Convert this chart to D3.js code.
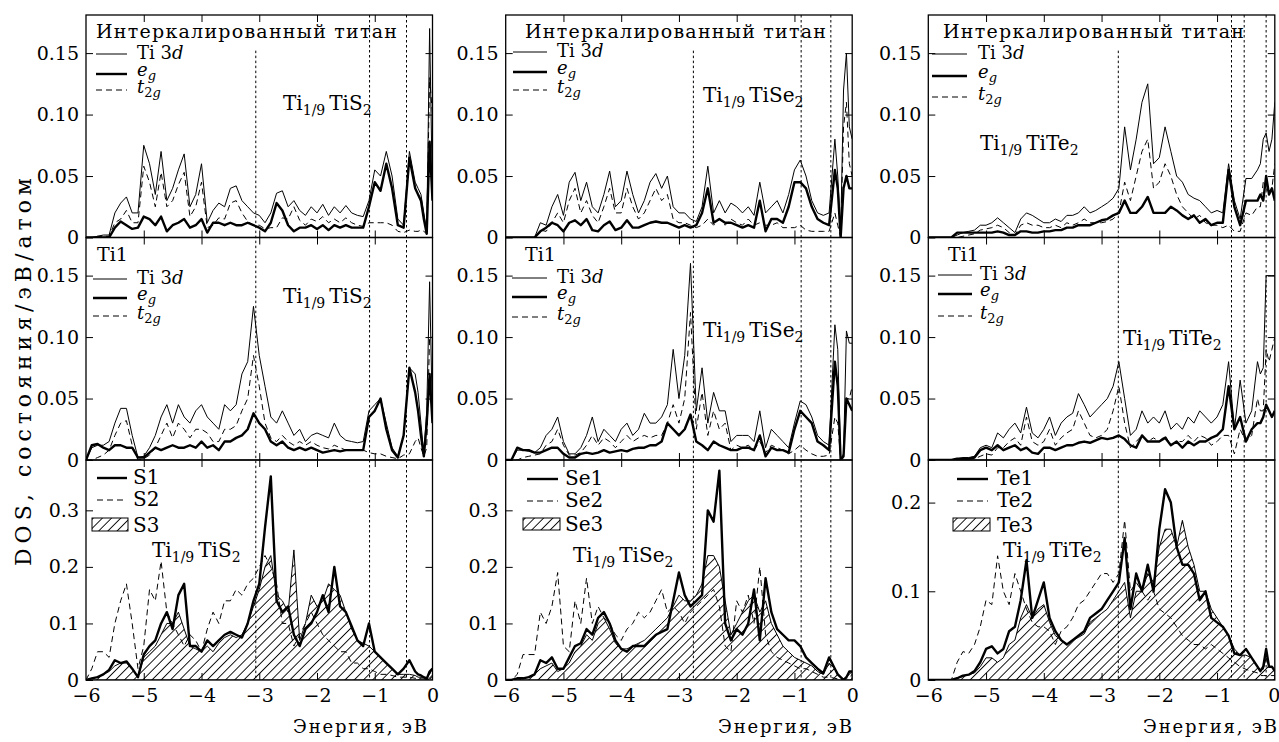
<!DOCTYPE html>
<html>
<head>
<meta charset="utf-8">
<script src="https://cdn.jsdelivr.net/npm/d3@7"></script>
<style>
    body { margin: 0; background: #fff; }
    svg text { font-family: "DejaVu Serif", serif; fill: #000; }
</style>
</head>
<body>
<div id="chart"></div>
<script>

// energy grid, eV (finer near the Fermi level)
let energy = [-6.0, -5.9, -5.8, -5.7, -5.6, -5.5, -5.4, -5.3, -5.2, -5.1,
    -5.0, -4.9, -4.8, -4.7, -4.6, -4.5, -4.4, -4.3, -4.2, -4.1,
    -4.0, -3.9, -3.8, -3.7, -3.6, -3.5, -3.4, -3.3, -3.2, -3.1,
    -3.0, -2.9, -2.8, -2.7, -2.6, -2.5, -2.4, -2.3, -2.2, -2.1,
    -2.0, -1.9, -1.8, -1.7, -1.6, -1.5, -1.4, -1.3, -1.2, -1.1,
    -1.0, -0.9, -0.8, -0.7, -0.6, -0.5, -0.4, -0.3,
    -0.25, -0.2, -0.15, -0.1, -0.05, 0];

let xTicks = [-6, -5, -4, -3, -2, -1, 0];
let yTicksTi = [0, 0.05, 0.10, 0.15];
let yTickLabelsTi = ["0", "0.05", "0.10", "0.15"];
let yTicksX = [0, 0.1, 0.2, 0.3];
let yTickLabelsX = ["0", "0.1", "0.2", "0.3"];
let yTicksTe = [0, 0.1, 0.2];
let yTickLabelsTe = ["0", "0.1", "0.2"];

// ---------- Ti1/9TiS2 ----------
let sTopTi3d = [0, 0, 0.001, 0.002, 0.002, 0.02, 0.028, 0.033, 0.02, 0.02,
    0.075, 0.06, 0.035, 0.07, 0.03, 0.04, 0.055, 0.068, 0.025, 0.035,
    0.06, 0.012, 0.022, 0.028, 0.025, 0.04, 0.042, 0.03, 0.025, 0.02,
    0.018, 0.012, 0.02, 0.036, 0.038, 0.025, 0.03, 0.022, 0.018, 0.025,
    0.02, 0.027, 0.018, 0.025, 0.02, 0.026, 0.02, 0.018, 0.017, 0.03,
    0.055, 0.05, 0.07, 0.05, 0.015, 0.01, 0.07, 0.045,
    0.04, 0.035, 0.02, 0.005, 0.17, 0.03];
let sTopEg = [0, 0, 0, 0, 0, 0.008, 0.013, 0.01, 0.007, 0.008,
    0.017, 0.015, 0.01, 0.017, 0.005, 0.01, 0.012, 0.015, 0.008, 0.01,
    0.015, 0.004, 0.012, 0.012, 0.01, 0.012, 0.01, 0.01, 0.012, 0.01,
    0.008, 0.005, 0.012, 0.028, 0.022, 0.01, 0.005, 0.008, 0.008, 0.01,
    0.007, 0.01, 0.006, 0.01, 0.008, 0.01, 0.008, 0.008, 0.008, 0.025,
    0.045, 0.038, 0.06, 0.04, 0.01, 0.008, 0.065, 0.04,
    0.035, 0.03, 0.015, 0.003, 0.078, 0.03];
let sTopT2g = [0, 0, 0.001, 0.001, 0.001, 0.012, 0.015, 0.022, 0.012, 0.012,
    0.058, 0.045, 0.025, 0.053, 0.025, 0.03, 0.043, 0.053, 0.017, 0.025,
    0.045, 0.008, 0.01, 0.016, 0.015, 0.028, 0.03, 0.02, 0.013, 0.01,
    0.01, 0.007, 0.008, 0.008, 0.016, 0.015, 0.025, 0.014, 0.01, 0.015,
    0.013, 0.017, 0.012, 0.015, 0.012, 0.016, 0.012, 0.01, 0.009, 0.012,
    0.012, 0.012, 0.012, 0.01, 0.005, 0.004, 0.006, 0.005,
    0.005, 0.006, 0.005, 0.003, 0.13, 0.1];

let sMidTi3d = [0, 0.01, 0.012, 0.012, 0.015, 0.03, 0.042, 0.042, 0.02, 0.002,
    0.003, 0.01, 0.02, 0.035, 0.045, 0.03, 0.045, 0.035, 0.03, 0.04,
    0.045, 0.035, 0.03, 0.025, 0.045, 0.04, 0.045, 0.07, 0.08, 0.125,
    0.085, 0.06, 0.035, 0.03, 0.04, 0.03, 0.02, 0.025, 0.015, 0.02,
    0.022, 0.02, 0.018, 0.03, 0.02, 0.016, 0.015, 0.014, 0.015, 0.04,
    0.045, 0.05, 0.03, 0.01, 0.003, 0.02, 0.075, 0.07,
    0.055, 0.03, 0.005, 0.04, 0.145, 0.03];
let sMidEg = [0, 0.012, 0.013, 0.01, 0.008, 0.012, 0.012, 0.01, 0.01, 0.002,
    0.002, 0.006, 0.01, 0.008, 0.01, 0.012, 0.01, 0.01, 0.012, 0.01,
    0.015, 0.01, 0.012, 0.008, 0.015, 0.015, 0.018, 0.02, 0.025, 0.038,
    0.03, 0.025, 0.015, 0.012, 0.015, 0.01, 0.008, 0.01, 0.008, 0.01,
    0.008, 0.006, 0.007, 0.008, 0.007, 0.008, 0.008, 0.008, 0.008, 0.035,
    0.04, 0.05, 0.025, 0.008, 0.002, 0.02, 0.075, 0.055,
    0.04, 0.02, 0.003, 0.03, 0.07, 0.03];
let sMidT2g = [0, 0, 0.002, 0.004, 0.008, 0.02, 0.03, 0.032, 0.012, 0,
    0.001, 0.004, 0.01, 0.02, 0.03, 0.018, 0.03, 0.025, 0.018, 0.025,
    0.025, 0.022, 0.015, 0.015, 0.025, 0.025, 0.028, 0.04, 0.05, 0.085,
    0.06, 0.03, 0.018, 0.015, 0.02, 0.015, 0.012, 0.015, 0.012, 0.015,
    0.012, 0.01, 0.009, 0.012, 0.01, 0.008, 0.008, 0.008, 0.008, 0.006,
    0.005, 0.005, 0.003, 0.002, 0.001, 0.004, 0.005, 0.015,
    0.018, 0.01, 0.003, 0.01, 0.1, 0.1];

let s1 = [0, 0.003, 0.005, 0.01, 0.018, 0.035, 0.03, 0.033, 0.02, 0.005,
    0.045, 0.06, 0.07, 0.1, 0.12, 0.09, 0.15, 0.17, 0.06, 0.06,
    0.05, 0.07, 0.06, 0.07, 0.08, 0.085, 0.08, 0.075, 0.1, 0.14,
    0.17, 0.27, 0.36, 0.14, 0.12, 0.13, 0.08, 0.06, 0.09, 0.1,
    0.12, 0.15, 0.12, 0.2, 0.13, 0.12, 0.095, 0.07, 0.06, 0.1,
    0.05, 0.04, 0.03, 0.02, 0.01, 0.02, 0.035, 0.015,
    0.01, 0.008, 0.005, 0.002, 0.015, 0.02];
let s2 = [0, 0.02, 0.05, 0.05, 0.04, 0.1, 0.14, 0.17, 0.1, 0.02,
    0.06, 0.16, 0.14, 0.21, 0.12, 0.1, 0.08, 0.06, 0.08, 0.07,
    0.05, 0.09, 0.12, 0.1, 0.14, 0.14, 0.16, 0.15, 0.17, 0.18,
    0.2, 0.22, 0.2, 0.17, 0.1, 0.1, 0.06, 0.08, 0.1, 0.12,
    0.1, 0.08, 0.07, 0.06, 0.05, 0.05, 0.03, 0.03, 0.02, 0.02,
    0.015, 0.01, 0.01, 0.008, 0.005, 0.005, 0.005, 0.003,
    0.002, 0.002, 0.002, 0.002, 0.002, 0.005];
let s3 = [0, 0.003, 0.005, 0.01, 0.015, 0.025, 0.03, 0.03, 0.02, 0.005,
    0.04, 0.05, 0.06, 0.08, 0.1, 0.1, 0.12, 0.09, 0.06, 0.055,
    0.05, 0.06, 0.05, 0.065, 0.075, 0.08, 0.075, 0.08, 0.1, 0.13,
    0.16, 0.2, 0.22, 0.15, 0.14, 0.12, 0.23, 0.07, 0.1, 0.15,
    0.13, 0.14, 0.17, 0.16, 0.15, 0.12, 0.09, 0.07, 0.065, 0.06,
    0.05, 0.04, 0.03, 0.02, 0.01, 0.01, 0.01, 0.008,
    0.005, 0.005, 0.005, 0.005, 0.01, 0.02];

// ---------- Ti1/9TiSe2 ----------
let seTopTi3d = [0, 0, 0, 0, 0, 0, 0.012, 0.01, 0.025, 0.035,
    0.018, 0.045, 0.053, 0.03, 0.045, 0.025, 0.02, 0.035, 0.054, 0.025,
    0.03, 0.054, 0.035, 0.02, 0.03, 0.045, 0.052, 0.04, 0.05, 0.025,
    0.02, 0.02, 0.015, 0.013, 0.025, 0.058, 0.02, 0.03, 0.02, 0.028,
    0.025, 0.02, 0.025, 0.018, 0.045, 0.02, 0.025, 0.03, 0.02, 0.035,
    0.055, 0.063, 0.05, 0.03, 0.02, 0.018, 0.02, 0.08,
    0.05, 0.002, 0.12, 0.15, 0.09, 0.08];
let seTopEg = [0, 0, 0, 0, 0, 0, 0.005, 0.008, 0.012, 0.01,
    0.005, 0.012, 0.014, 0.01, 0.015, 0.006, 0.005, 0.01, 0.013, 0.006,
    0.008, 0.014, 0.008, 0.008, 0.01, 0.012, 0.013, 0.012, 0.012, 0.01,
    0.008, 0.01, 0.008, 0.01, 0.02, 0.04, 0.012, 0.015, 0.012, 0.012,
    0.01, 0.008, 0.01, 0.008, 0.03, 0.005, 0.015, 0.015, 0.012, 0.025,
    0.045, 0.045, 0.04, 0.025, 0.015, 0.012, 0.01, 0.055,
    0.04, 0, 0.04, 0.05, 0.04, 0.04];
let seTopT2g = [0, 0, 0, 0, 0, 0, 0.006, 0.005, 0.012, 0.02,
    0.012, 0.03, 0.04, 0.02, 0.03, 0.018, 0.012, 0.025, 0.04, 0.02,
    0.02, 0.04, 0.025, 0.015, 0.02, 0.03, 0.04, 0.03, 0.035, 0.015,
    0.012, 0.012, 0.01, 0.008, 0.01, 0.015, 0.01, 0.015, 0.01, 0.015,
    0.012, 0.01, 0.015, 0.01, 0.012, 0.01, 0.01, 0.012, 0.008, 0.008,
    0.008, 0.01, 0.006, 0.005, 0.005, 0.005, 0.005, 0.02,
    0.01, 0, 0.09, 0.11, 0.06, 0.05];

let seMidTi3d = [0, 0, 0.008, 0.008, 0.007, 0.006, 0.01, 0.02, 0.025, 0.035,
    0.015, 0.005, 0.005, 0.01, 0.02, 0.035, 0.015, 0.025, 0.02, 0.015,
    0.025, 0.03, 0.02, 0.025, 0.038, 0.03, 0.03, 0.035, 0.045, 0.09,
    0.05, 0.085, 0.16, 0.04, 0.075, 0.03, 0.055, 0.04, 0.04, 0.015,
    0.02, 0.02, 0.02, 0.015, 0.04, 0.01, 0.025, 0.02, 0.015, 0.01,
    0.03, 0.048, 0.045, 0.035, 0.02, 0.015, 0.012, 0.11,
    0.09, 0, 0.005, 0.105, 0.095, 0.095];
let seMidEg = [0, 0, 0.01, 0.008, 0.008, 0.006, 0.006, 0.008, 0.01, 0.01,
    0.005, 0.002, 0.002, 0.005, 0.006, 0.005, 0.006, 0.008, 0.006, 0.007,
    0.008, 0.007, 0.009, 0.01, 0.01, 0.012, 0.012, 0.015, 0.03, 0.025,
    0.02, 0.025, 0.037, 0.015, 0.012, 0.008, 0.015, 0.012, 0.01, 0.008,
    0.008, 0.01, 0.01, 0.008, 0.02, 0.003, 0.01, 0.008, 0.008, 0.006,
    0.025, 0.04, 0.035, 0.03, 0.015, 0.012, 0.008, 0.08,
    0.06, 0, 0.003, 0.05, 0.045, 0.04];
let seMidT2g = [0, 0, 0, 0.002, 0.003, 0.004, 0.005, 0.012, 0.015, 0.025,
    0.012, 0.004, 0.004, 0.006, 0.012, 0.02, 0.012, 0.018, 0.015, 0.01,
    0.015, 0.02, 0.015, 0.018, 0.02, 0.018, 0.02, 0.02, 0.03, 0.045,
    0.03, 0.05, 0.12, 0.025, 0.055, 0.02, 0.04, 0.025, 0.03, 0.008,
    0.012, 0.01, 0.012, 0.008, 0.015, 0.006, 0.012, 0.01, 0.008, 0.005,
    0.008, 0.012, 0.008, 0.005, 0.003, 0.003, 0.004, 0.035,
    0.03, 0, 0.002, 0.05, 0.05, 0.06];

let se1 = [0, 0, 0.003, 0.003, 0.005, 0.01, 0.035, 0.03, 0.04, 0.02,
    0.02, 0.04, 0.06, 0.065, 0.09, 0.08, 0.11, 0.12, 0.1, 0.07,
    0.055, 0.05, 0.06, 0.06, 0.06, 0.07, 0.08, 0.085, 0.09, 0.14,
    0.19, 0.15, 0.13, 0.14, 0.15, 0.3, 0.28, 0.37, 0.1, 0.07,
    0.09, 0.08, 0.1, 0.16, 0.07, 0.18, 0.12, 0.09, 0.08, 0.07,
    0.07, 0.06, 0.04, 0.03, 0.02, 0.012, 0.04, 0.02,
    0.01, 0.005, 0, 0.005, 0.015, 0.015];
let se2 = [0, 0, 0.01, 0.045, 0.045, 0.045, 0.12, 0.1, 0.13, 0.19,
    0.06, 0.05, 0.14, 0.1, 0.18, 0.1, 0.13, 0.11, 0.1, 0.08,
    0.07, 0.09, 0.1, 0.12, 0.11, 0.12, 0.14, 0.16, 0.12, 0.13,
    0.12, 0.1, 0.12, 0.13, 0.14, 0.15, 0.16, 0.13, 0.06, 0.05,
    0.14, 0.12, 0.15, 0.1, 0.2, 0.08, 0.05, 0.04, 0.035, 0.03,
    0.025, 0.02, 0.02, 0.015, 0.01, 0.005, 0.005, 0.003,
    0.002, 0.002, 0.002, 0.002, 0.005, 0.01];
let se3 = [0, 0, 0.002, 0.003, 0.005, 0.01, 0.02, 0.025, 0.03, 0.015,
    0.02, 0.03, 0.05, 0.06, 0.08, 0.07, 0.1, 0.11, 0.09, 0.065,
    0.055, 0.055, 0.06, 0.065, 0.07, 0.08, 0.09, 0.1, 0.11, 0.13,
    0.15, 0.14, 0.14, 0.15, 0.17, 0.22, 0.22, 0.2, 0.14, 0.08,
    0.1, 0.12, 0.14, 0.15, 0.12, 0.14, 0.1, 0.08, 0.06, 0.05,
    0.04, 0.035, 0.03, 0.025, 0.015, 0.01, 0.03, 0.02,
    0.01, 0.005, 0.002, 0.005, 0.01, 0.015];

// ---------- Ti1/9TiTe2 ----------
let teTopTi3d = [0, 0, 0, 0, 0, 0.002, 0.004, 0.005, 0.006, 0.01,
    0.01, 0.012, 0.016, 0.012, 0.008, 0.004, 0.015, 0.02, 0.018, 0.015,
    0.012, 0.012, 0.015, 0.013, 0.018, 0.018, 0.02, 0.025, 0.02, 0.022,
    0.025, 0.028, 0.032, 0.04, 0.09, 0.055, 0.08, 0.11, 0.125, 0.06,
    0.065, 0.09, 0.07, 0.05, 0.045, 0.035, 0.032, 0.03, 0.025, 0.02,
    0.022, 0.02, 0.06, 0.03, 0.015, 0.048, 0.048, 0.055,
    0.06, 0.08, 0.085, 0.07, 0.08, 0.11];
let teTopEg = [0, 0, 0, 0, 0, 0.004, 0.004, 0.004, 0.004, 0.004,
    0.004, 0.004, 0.005, 0.004, 0.002, 0.002, 0.005, 0.005, 0.004, 0.004,
    0.005, 0.005, 0.006, 0.006, 0.008, 0.008, 0.01, 0.01, 0.01, 0.012,
    0.014, 0.015, 0.018, 0.02, 0.03, 0.02, 0.02, 0.025, 0.033, 0.02,
    0.02, 0.02, 0.025, 0.022, 0.018, 0.015, 0.018, 0.012, 0.015, 0.01,
    0.012, 0.012, 0.055, 0.025, 0.01, 0.03, 0.03, 0.03,
    0.035, 0.03, 0.05, 0.035, 0.04, 0.03];
let teTopT2g = [0, 0, 0, 0, 0, 0, 0.001, 0.002, 0.003, 0.006,
    0.007, 0.008, 0.01, 0.008, 0.004, 0.002, 0.01, 0.012, 0.01, 0.01,
    0.008, 0.008, 0.01, 0.008, 0.012, 0.01, 0.012, 0.015, 0.012, 0.012,
    0.012, 0.013, 0.015, 0.02, 0.045, 0.03, 0.05, 0.07, 0.08, 0.04,
    0.045, 0.06, 0.05, 0.035, 0.025, 0.02, 0.015, 0.018, 0.012, 0.01,
    0.01, 0.008, 0.01, 0.005, 0.005, 0.02, 0.018, 0.025,
    0.025, 0.045, 0.04, 0.035, 0.04, 0.06];

let teMidTi3d = [0, 0, 0, 0, 0, 0.001, 0.002, 0.002, 0.003, 0.01,
    0.012, 0.01, 0.022, 0.018, 0.025, 0.03, 0.022, 0.043, 0.022, 0.018,
    0.025, 0.035, 0.02, 0.03, 0.035, 0.038, 0.054, 0.045, 0.035, 0.04,
    0.045, 0.05, 0.06, 0.08, 0.05, 0.02, 0.025, 0.04, 0.03, 0.035,
    0.03, 0.04, 0.025, 0.03, 0.025, 0.035, 0.03, 0.04, 0.035, 0.03,
    0.035, 0.045, 0.08, 0.025, 0.065, 0.03, 0.04, 0.08,
    0.07, 0.075, 0.15, 0.15, 0.15, 0.15];
let teMidEg = [0, 0, 0, 0, 0, 0.001, 0.001, 0.001, 0.002, 0.008,
    0.01, 0.008, 0.012, 0.008, 0.01, 0.012, 0.008, 0.01, 0.006, 0.005,
    0.01, 0.01, 0.008, 0.01, 0.012, 0.012, 0.014, 0.015, 0.014, 0.016,
    0.018, 0.017, 0.018, 0.02, 0.017, 0.012, 0.01, 0.02, 0.015, 0.015,
    0.015, 0.018, 0.012, 0.015, 0.01, 0.015, 0.012, 0.015, 0.015, 0.018,
    0.02, 0.025, 0.06, 0.025, 0.035, 0.015, 0.025, 0.03,
    0.03, 0.035, 0.045, 0.04, 0.035, 0.04];
let teMidT2g = [0, 0, 0, 0, 0, 0, 0.001, 0.001, 0.001, 0.003,
    0.005, 0.004, 0.01, 0.01, 0.015, 0.018, 0.012, 0.035, 0.015, 0.012,
    0.015, 0.025, 0.012, 0.018, 0.022, 0.025, 0.04, 0.03, 0.02, 0.018,
    0.02, 0.025, 0.04, 0.06, 0.03, 0.01, 0.015, 0.02, 0.015, 0.018,
    0.015, 0.02, 0.012, 0.015, 0.015, 0.02, 0.015, 0.02, 0.018, 0.012,
    0.015, 0.02, 0.02, 0.005, 0.025, 0.015, 0.02, 0.05,
    0.04, 0.04, 0.09, 0.08, 0.09, 0.1];

let te1 = [0, 0, 0, 0, 0, 0.002, 0.005, 0.006, 0.01, 0.02,
    0.035, 0.038, 0.03, 0.035, 0.055, 0.06, 0.09, 0.135, 0.07, 0.09,
    0.11, 0.07, 0.055, 0.045, 0.04, 0.045, 0.05, 0.055, 0.07, 0.075,
    0.08, 0.09, 0.1, 0.11, 0.16, 0.08, 0.12, 0.1, 0.13, 0.1,
    0.17, 0.215, 0.2, 0.15, 0.13, 0.13, 0.12, 0.09, 0.1, 0.07,
    0.065, 0.06, 0.05, 0.03, 0.028, 0.035, 0.025, 0.015,
    0.01, 0.015, 0.035, 0.015, 0.015, 0.01];
let te2 = [0, 0, 0, 0, 0, 0.02, 0.032, 0.03, 0.04, 0.06,
    0.09, 0.085, 0.14, 0.1, 0.085, 0.12, 0.1, 0.08, 0.065, 0.06,
    0.06, 0.055, 0.04, 0.055, 0.06, 0.07, 0.085, 0.09, 0.1, 0.11,
    0.12, 0.12, 0.11, 0.12, 0.18, 0.1, 0.11, 0.1, 0.09, 0.1,
    0.08, 0.075, 0.07, 0.06, 0.05, 0.045, 0.04, 0.04, 0.035, 0.04,
    0.035, 0.03, 0.025, 0.02, 0.015, 0.012, 0.01, 0.008,
    0.005, 0.005, 0.005, 0.005, 0.005, 0.005];
let te3 = [0, 0, 0, 0, 0, 0.002, 0.004, 0.006, 0.008, 0.015,
    0.025, 0.025, 0.02, 0.025, 0.04, 0.045, 0.07, 0.085, 0.07, 0.08,
    0.085, 0.065, 0.05, 0.045, 0.04, 0.045, 0.048, 0.052, 0.065, 0.07,
    0.075, 0.08, 0.09, 0.1, 0.11, 0.07, 0.1, 0.1, 0.12, 0.11,
    0.15, 0.17, 0.17, 0.15, 0.18, 0.15, 0.13, 0.1, 0.1, 0.08,
    0.07, 0.06, 0.05, 0.035, 0.028, 0.028, 0.025, 0.015,
    0.012, 0.012, 0.025, 0.015, 0.015, 0.01];

// dotted guide lines (energy, eV) and where the first one of each column starts (DOS units of top panel)
let guidesS = [-3.06, -1.09, -0.45];
let guidesSe = [-2.75, -0.884, -0.37];
let guidesTe = [-2.71, -0.75, -0.53, -0.15];
let guideStart = [0.152, 0.152, 0.152];

let compounds = ["S", "Se", "Te"];
let bottomNames = [["S1", "S2", "S3"], ["Se1", "Se2", "Se3"], ["Te1", "Te2", "Te3"]];


// ---------------- layout ----------------
let W = 346.5;
let colX = [86, 505.7, 928.3];
let rowY = [15, 237.5, 460, 680];
let tiMax = 0.181;
let botMax = [0.389, 0.389, 0.248];

let columns = [
    { top: [sTopTi3d, sTopEg, sTopT2g], mid: [sMidTi3d, sMidEg, sMidT2g], bot: [s1, s2, s3],
      guides: guidesS, botTicks: yTicksX, botLabels: yTickLabelsX },
    { top: [seTopTi3d, seTopEg, seTopT2g], mid: [seMidTi3d, seMidEg, seMidT2g], bot: [se1, se2, se3],
      guides: guidesSe, botTicks: yTicksX, botLabels: yTickLabelsX },
    { top: [teTopTi3d, teTopEg, teTopT2g], mid: [teMidTi3d, teMidEg, teMidT2g], bot: [te1, te2, te3],
      guides: guidesTe, botTicks: yTicksTe, botLabels: yTickLabelsTe }
];

let legendTop = [
    { tx: 96, ty: 38, hx0: 96, hx1: 127, lx: 137, rows: [54, 74, 90] },
    { tx: 525, ty: 38, hx0: 513, hx1: 547, lx: 557, rows: [52, 72, 90] },
    { tx: 943, ty: 38, hx0: 932, hx1: 967, lx: 978, rows: [54, 76, 97] }
];
let legendMid = [
    { tx: 97, ty: 261, hx0: 93, hx1: 127, lx: 137, rows: [279, 298, 316] },
    { tx: 525, ty: 261, hx0: 512, hx1: 547, lx: 557, rows: [278, 297, 317] },
    { tx: 948, ty: 261, hx0: 938, hx1: 972, lx: 980, rows: [275, 294, 316] }
];
let legendBot = [
    { hx0: 97, hx1: 127, lx: 133, rows: [478, 500], box: [92, 518, 36, 13] },
    { hx0: 527, hx1: 558, lx: 565, rows: [479, 501], box: [523, 518, 37, 12] },
    { hx0: 957, hx1: 988, lx: 997, rows: [479, 501], box: [953, 518, 37, 13] }
];
let annotPos = [
    [[283, 110], [283, 303], [152, 557]],
    [[703, 102], [703, 337], [573, 562]],
    [[980, 150], [1123, 345], [1003, 557]]
];
let xLabelX = [293, 718, 1143];

let styles = {
    thin: { w: 1, dash: null },
    thick: { w: 2.4, dash: null },
    dashed: { w: 1, dash: "6,4" }
};


let svg = d3.select("#chart").append("svg")
    .attr("width", 1279)
    .attr("height", 742);

let defs = svg.append("defs");

// diagonal hatch for the third chalcogen site
let hatch = defs.append("pattern")
    .attr("id", "hatch")
    .attr("patternUnits", "userSpaceOnUse")
    .attr("width", 6.5)
    .attr("height", 6.5)
    .attr("patternTransform", "rotate(45)");
hatch.append("line")
    .attr("x1", 3.25).attr("y1", 0)
    .attr("x2", 3.25).attr("y2", 6.5)
    .attr("stroke", "#000")
    .attr("stroke-width", 0.9);


function drawCurve(g, x, y, vals, st) {
    let line = d3.line()
        .x((d, i) => x(energy[i]))
        .y(d => y(d));
    g.append("path")
        .datum(vals)
        .attr("d", line)
        .attr("fill", "none")
        .attr("stroke", "#000")
        .attr("stroke-width", st.w)
        .attr("stroke-dasharray", st.dash)
        .attr("stroke-linejoin", "round");
}

function drawAxes(g, x, y, ticks, labels, showX) {
    let top = y.range()[1], bottom = y.range()[0];

    let left = g.append("g")
        .attr("transform", "translate(" + x.range()[0] + ",0)")
        .call(d3.axisLeft(y).tickValues(ticks).tickSize(-7).tickSizeOuter(0).tickPadding(7)
            .tickFormat((d, i) => labels[i]));
    let right = g.append("g")
        .attr("transform", "translate(" + x.range()[1] + ",0)")
        .call(d3.axisRight(y).tickValues(ticks.filter(t => t > 0)).tickSize(-7).tickSizeOuter(0).tickFormat(""));
    let topAx = g.append("g")
        .attr("transform", "translate(0," + top + ")")
        .call(d3.axisTop(x).tickValues(xTicks.slice(1, -1)).tickSize(-7).tickSizeOuter(0).tickFormat(""));
    let botAx = g.append("g")
        .attr("transform", "translate(0," + bottom + ")")
        .call(d3.axisBottom(x).tickValues(showX ? xTicks : xTicks.slice(1, -1)).tickSize(-7).tickSizeOuter(0).tickPadding(9)
            .tickFormat(showX ? d3.format("") : ""));
    if (showX) botAx.selectAll(".tick").filter(d => d == -6 || d == 0).select("line").remove();

    [left, right, topAx, botAx].forEach(a => {
        a.select(".domain").remove();
        a.selectAll("line").attr("stroke", "#000").attr("stroke-width", 1);
        a.selectAll("text")
            .attr("font-family", "DejaVu Serif")
            .attr("font-size", 19)
            .attr("fill", "#000");
    });
    // keep the "0" at the right edge of the page inside the picture
    if (showX && x.range()[1] > 1270) {
        botAx.selectAll(".tick").filter(d => d == 0).select("text").attr("text-anchor", "end").attr("x", 5);
    }

    // frame
    g.append("rect")
        .attr("x", x.range()[0])
        .attr("y", top)
        .attr("width", x.range()[1] - x.range()[0])
        .attr("height", bottom - top)
        .attr("fill", "none")
        .attr("stroke", "#000")
        .attr("stroke-width", 1.3);
}

function handle(g, x0, x1, yy, st) {
    g.append("line")
        .attr("x1", x0).attr("x2", x1)
        .attr("y1", yy).attr("y2", yy)
        .attr("stroke", "#000")
        .attr("stroke-width", st.w)
        .attr("stroke-dasharray", st.dash);
}

function tiLegend(g, L, title, titleLen) {
    let t = g.append("text")
        .attr("x", L.tx).attr("y", L.ty)
        .attr("font-size", 19)
        .text(title);
    if (titleLen) t.attr("textLength", titleLen).attr("lengthAdjust", "spacing");

    handle(g, L.hx0, L.hx1, L.rows[0], styles.thin);
    handle(g, L.hx0, L.hx1, L.rows[1], styles.thick);
    handle(g, L.hx0, L.hx1, L.rows[2], styles.dashed);

    let a = g.append("text").attr("x", L.lx).attr("y", L.rows[0] + 5).attr("font-size", 18);
    a.append("tspan").text("Ti 3");
    a.append("tspan").attr("font-style", "italic").text("d");

    let b = g.append("text").attr("x", L.lx).attr("y", L.rows[1] + 2).attr("font-size", 18);
    b.append("tspan").attr("font-style", "italic").text("e");
    b.append("tspan").attr("font-style", "italic").attr("font-size", 13).attr("dy", 4).text("g");

    let c = g.append("text").attr("x", L.lx).attr("y", L.rows[2] + 3).attr("font-size", 18);
    c.append("tspan").attr("font-style", "italic").text("t");
    c.append("tspan").attr("font-size", 13).attr("dy", 4).text("2");
    c.append("tspan").attr("font-style", "italic").attr("font-size", 13).text("g");
}

function formulaText(g, pos, atom) {
    let t = g.append("text")
        .attr("x", pos[0]).attr("y", pos[1])
        .attr("font-size", 20);
    t.append("tspan").text("Ti");
    t.append("tspan").attr("font-size", 14).attr("dy", 5).text("1/9");
    t.append("tspan").attr("dx", 4).attr("dy", -5).text("Ti" + atom);
    t.append("tspan").attr("font-size", 14).attr("dy", 5).text("2");
}


columns.forEach(function (col, ci) {
    let x = d3.scaleLinear().domain([-6, 0]).range([colX[ci], colX[ci] + W]);
    let yTop = d3.scaleLinear().domain([0, tiMax]).range([rowY[1], rowY[0]]);
    let yMid = d3.scaleLinear().domain([0, tiMax]).range([rowY[2], rowY[1]]);
    let yBot = d3.scaleLinear().domain([0, botMax[ci]]).range([rowY[3], rowY[2]]);

    [[col.top, yTop, 0], [col.mid, yMid, 1], [col.bot, yBot, 2]].forEach(function (p) {
        let series = p[0], y = p[1], r = p[2];
        let clipId = "clip" + ci + r;
        defs.append("clipPath").attr("id", clipId)
            .append("rect")
            .attr("x", x.range()[0]).attr("y", y.range()[1])
            .attr("width", W).attr("height", y.range()[0] - y.range()[1]);

        let g = svg.append("g").attr("clip-path", "url(#" + clipId + ")");

        if (r < 2) {
            drawCurve(g, x, y, series[2], styles.dashed);
            drawCurve(g, x, y, series[0], styles.thin);
            drawCurve(g, x, y, series[1], styles.thick);
        } else {
            let area = d3.area()
                .x((d, i) => x(energy[i]))
                .y0(y(0))
                .y1(d => y(d));
            g.append("path")
                .datum(series[2])
                .attr("d", area)
                .attr("fill", "url(#hatch)")
                .attr("stroke", "#000")
                .attr("stroke-width", 1);
            drawCurve(g, x, y, series[1], styles.dashed);
            drawCurve(g, x, y, series[0], styles.thick);
        }

        let axG = svg.append("g");
        if (r < 2) drawAxes(axG, x, y, yTicksTi, yTickLabelsTi, false);
        else drawAxes(axG, x, y, col.botTicks, col.botLabels, true);

        formulaText(svg, annotPos[ci][r], compounds[ci]);
    });

    // legends
    tiLegend(svg, legendTop[ci], "Интеркалированный титан", 301);
    tiLegend(svg, legendMid[ci], "Ti1", null);

    let LB = legendBot[ci];
    handle(svg, LB.hx0, LB.hx1, LB.rows[0], styles.thick);
    handle(svg, LB.hx0, LB.hx1, LB.rows[1], styles.dashed);
    svg.append("rect")
        .attr("x", LB.box[0]).attr("y", LB.box[1])
        .attr("width", LB.box[2]).attr("height", LB.box[3])
        .attr("fill", "url(#hatch)")
        .attr("stroke", "#000")
        .attr("stroke-width", 1);
    let names = bottomNames[ci];
    svg.append("text").attr("x", LB.lx).attr("y", LB.rows[0] + 6).attr("font-size", 20).text(names[0]);
    svg.append("text").attr("x", LB.lx).attr("y", LB.rows[1] + 6).attr("font-size", 20).text(names[1]);
    svg.append("text").attr("x", LB.lx).attr("y", LB.box[1] + LB.box[3] + 1).attr("font-size", 20).text(names[2]);

    // dotted guides through the whole column
    svg.append("g")
        .selectAll("line")
        .data(col.guides)
        .join("line")
        .attr("x1", d => x(d)).attr("x2", d => x(d))
        .attr("y1", (d, i) => i == 0 ? yTop(guideStart[ci]) : rowY[0])
        .attr("y2", rowY[3])
        .attr("stroke", "#000")
        .attr("stroke-width", 1)
        .attr("stroke-dasharray", "2.5,2.5");

    // x axis title
    svg.append("text")
        .attr("x", xLabelX[ci])
        .attr("y", 733)
        .attr("font-size", 18)
        .attr("textLength", 134)
        .attr("lengthAdjust", "spacing")
        .text("Энергия, эВ");
});

// y axis title
svg.append("text")
    .attr("transform", "translate(31,372) rotate(-90)")
    .attr("text-anchor", "middle")
    .attr("font-size", 22)
    .attr("textLength", 388)
    .attr("lengthAdjust", "spacing")
    .text("DOS, состояния/эВ/атом");

</script>
</body>
</html>
